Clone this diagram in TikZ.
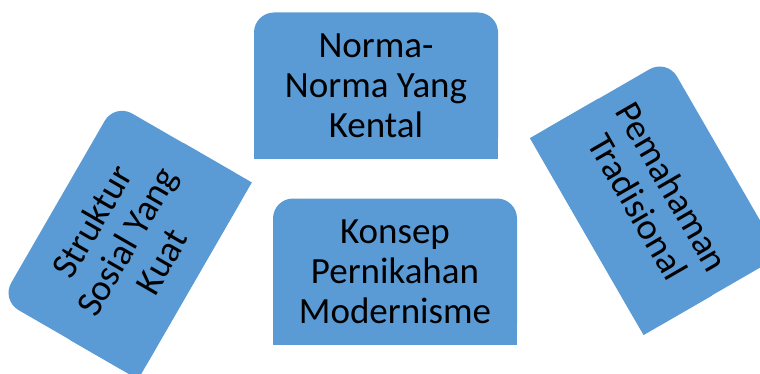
\documentclass[tikz,border=0pt]{standalone}
\usepackage{fontspec}
\setmainfont{Carlito}
\usepackage{tikz}
\usetikzlibrary{backgrounds}
\definecolor{boxblue}{HTML}{5B9BD5}

\begin{document}
\begin{tikzpicture}[x=1pt,y=1pt,
  box/.style={rectangle, fill=boxblue, rounded corners=20pt, inner sep=0pt,
    align=center, font=\fontsize{37}{40}\selectfont},
  main node/.style={box, minimum width=244pt, minimum height=146pt},
  side node/.style={box, minimum width=227pt, minimum height=158pt}]
  \useasboundingbox (0,0) rectangle (760,373);
  \node[main node] (1) at (376,287.5) {Norma-\\Norma Yang\\Kental};
  \node[main node] (2) at (395,101.5) {Konsep\\Pernikahan\\Modernisme};
  \node[side node, rotate=60] (3) at (126.4,131.7) {Struktur\\Sosial Yang\\Kuat};
  \node[side node, rotate=-60] (4) at (655.3,176) {Pemahaman\\Tradisional};

  % square off the bottom corners
  \begin{scope}[on background layer]
    \foreach \n in {1,2,3,4}
      \fill[boxblue] (\n.west) -- (\n.south west) -- (\n.south east) -- (\n.east) -- cycle;
  \end{scope}
\end{tikzpicture}
\end{document}
